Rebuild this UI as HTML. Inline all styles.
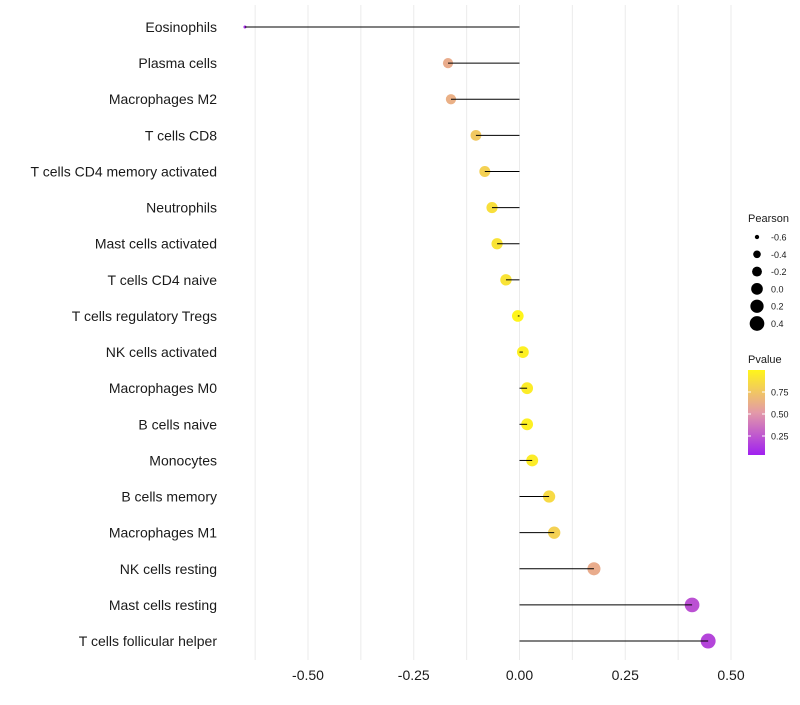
<!DOCTYPE html>
<html><head><meta charset="utf-8"><style>
body{margin:0;background:#fff;font-family:"Liberation Sans",sans-serif}
</style></head><body>
<svg id="c" width="800" height="700" xmlns="http://www.w3.org/2000/svg">
<defs><linearGradient id="pg" x1="0" y1="1" x2="0" y2="0">
<stop offset="0" stop-color="#a020f0"/><stop offset="0.5" stop-color="#e39aa8"/><stop offset="1" stop-color="#fff51a"/>
</linearGradient></defs>
<g id="grid"></g><g id="marks"></g><g id="labels"></g>
<g id="legend"></g>
</svg>
<script>
const categories=["Eosinophils","Plasma cells","Macrophages M2","T cells CD8","T cells CD4 memory activated","Neutrophils","Mast cells activated","T cells CD4 naive","T cells regulatory  Tregs ","NK cells activated","Macrophages M0","B cells naive","Monocytes","B cells memory","Macrophages M1","NK cells resting","Mast cells resting","T cells follicular helper"];
const pearson=[-0.649,-0.169,-0.162,-0.103,-0.082,-0.065,-0.053,-0.032,-0.004,0.008,0.018,0.018,0.030,0.070,0.082,0.176,0.408,0.446];
const pvalue=[0.05,0.6,0.62,0.75,0.8,0.88,0.9,0.9,1.0,0.97,0.95,0.97,0.95,0.85,0.8,0.6,0.2,0.15];
const xTicks=[-0.5,-0.25,0,0.25,0.5];
const xTickLabels=["-0.50","-0.25","0.00","0.25","0.50"];
const sizeBreaks=[-0.6,-0.4,-0.2,0.0,0.2,0.4];
const pTicks=[0.25,0.5,0.75];
const NS="http://www.w3.org/2000/svg";
const X=v=>519.5+v*423;
const Y=i=>27+i*36.12;
const R=v=>Math.sqrt(Math.max(2.25,2.25+(v+0.65)*49));
function lerp(a,b,t){return a.map((x,i)=>Math.round(x+(b[i]-x)*t));}
function col(p){const a=[160,32,240],m=[227,154,168],y=[255,245,26];const c=p<0.5?lerp(a,m,p/0.5):lerp(m,y,(p-0.5)/0.5);return `rgb(${c})`;}
function el(t,at,par){const e=document.createElementNS(NS,t);for(const k in at)e.setAttribute(k,at[k]);document.getElementById(par).appendChild(e);return e;}
const grid=[-0.625,-0.5,-0.375,-0.25,-0.125,0,0.125,0.25,0.375,0.5];
grid.forEach(g=>{const l=el('line',{x1:X(g),x2:X(g),y1:5,y2:660,stroke:'#ebebeb','stroke-width':1},'grid');

});
categories.forEach((c,i)=>{
 const t=el('text',{x:217,y:Y(i)+5,'text-anchor':'end','font-size':14,fill:'#1a1a1a'},'labels');t.textContent=c;
 
 
 const d=el('circle',{cx:X(pearson[i]),cy:Y(i),r:R(pearson[i]),fill:col(pvalue[i])},'marks');
 
 
 const l=el('line',{x1:X(0),x2:X(pearson[i]),y1:Y(i),y2:Y(i),stroke:'#000','stroke-width':1},'marks');
 
 
});
xTicks.forEach((v,i)=>{const t=el('text',{x:X(v),y:680,'text-anchor':'middle','font-size':14,fill:'#1a1a1a'},'labels');t.textContent=xTickLabels[i];

});
let t=el('text',{x:748,y:222,'font-size':11,fill:'#1a1a1a'},'legend');t.textContent='Pearson';


sizeBreaks.forEach((v,i)=>{const y=237+i*17.3;
 const c=el('circle',{cx:757,cy:y,r:R(v),fill:'#000'},'legend');
 
 
 const s=el('text',{x:771,y:y+3.5,'font-size':9,fill:'#1a1a1a'},'legend');s.textContent=v.toFixed(1);
 
 });
t=el('text',{x:748,y:363,'font-size':11,fill:'#1a1a1a'},'legend');t.textContent='Pvalue';


const bar=el('rect',{x:748,y:370,width:17,height:85,fill:'url(#pg)'},'legend');


const PY=p=>392+(0.75-p)*88;
pTicks.forEach(p=>{
 const a=el('line',{x1:748,x2:751,y1:PY(p),y2:PY(p),stroke:'#fff'},'legend');
 const b=el('line',{x1:762,x2:765,y1:PY(p),y2:PY(p),stroke:'#fff'},'legend');
 const s=el('text',{x:771,y:PY(p)+3.5,'font-size':9,fill:'#1a1a1a'},'legend');s.textContent=p.toFixed(2);
 
 });
</script>
</body></html>
